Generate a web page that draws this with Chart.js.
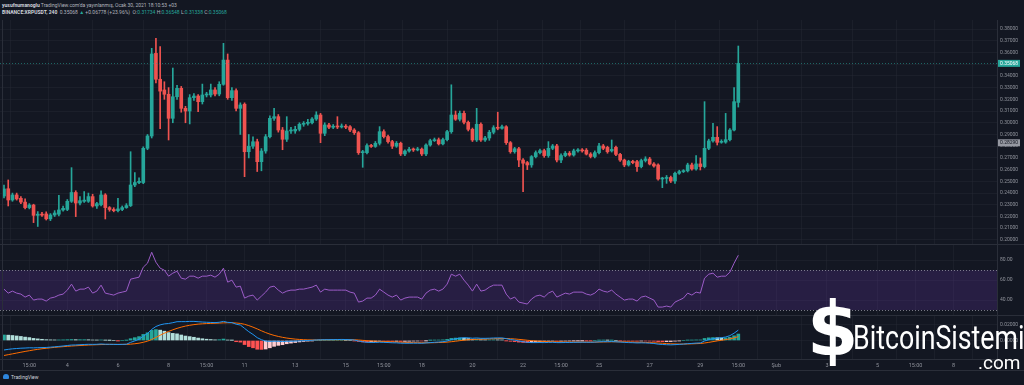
<!DOCTYPE html>
<html><head><meta charset="utf-8">
<script src="https://cdn.jsdelivr.net/npm/chart.js@4.4.0/dist/chart.umd.min.js"></script>
<style>
html,body{margin:0;padding:0;background:#131722;width:1024px;height:385px;overflow:hidden;font-family:Roboto,'Noto Sans',sans-serif;}
canvas{position:absolute;left:0;}
.hdr{position:absolute;left:2px;font-size:5px;color:#b2b5be;white-space:nowrap;line-height:6px;}
.hdr b{color:#d1d4dc;}
.t{color:#26a69a;}
.ln{position:absolute;background:#2a2e39;}
.logo{position:absolute;color:#fff;white-space:nowrap;line-height:1;}
</style></head><body>
<div class="hdr" style="top:2px"><b>yusufnumanoglu</b> TradingView.com'da yayınlanmış, Ocak 30, 2021 18:10:53 +03</div>
<div class="hdr" style="top:9px"><b>BINANCE:XRPUSDT, 240</b> &nbsp;0.35068 <span class="t">▲</span> +0.06778 (+23.96%) &nbsp;O:<span class="t">0.31734</span> H:<span class="t">0.36548</span> L:<span class="t">0.31338</span> C:<span class="t">0.35068</span></div>
<canvas id="main" width="1024" height="224" style="top:20px"></canvas>
<canvas id="rsi" width="1024" height="70" style="top:245px"></canvas>
<canvas id="macd" width="1024" height="54" style="top:316px"></canvas>
<div class="ln" style="left:0;top:244px;width:1024px;height:1px"></div>
<div class="ln" style="left:0;top:315px;width:1024px;height:1px"></div>
<div class="ln" style="left:0;top:370px;width:1024px;height:1px"></div>
<div class="ln" style="left:997px;top:20px;width:1px;height:350px"></div>
<div class="ln" style="left:2px;top:20px;width:1px;height:350px"></div>
<div style="position:absolute;left:3px;top:374px;width:6px;height:5px;background:#2e86de;border-radius:3px 3px 1px 1px"></div>
<div class="hdr" style="left:11px;top:374px;color:#d1d4dc">TradingView</div>
<div class="logo" style="left:807px;top:292px;font-size:74px;font-weight:bold;font-family:'DejaVu Sans'">$</div>
<div class="logo" style="left:853px;top:321px;font-size:33px;transform:scaleX(0.81);transform-origin:left top;font-family:Roboto">BitcoinSistemi</div>
<div class="logo" style="left:978px;top:353px;font-size:19px;font-family:Roboto">.com</div>
<script>
// ---- data (Binance XRPUSDT, 4h candles) ----
const opens=[.2375,.2437,.2341,.2384,.2355,.2323,.2276,.2298,.2210,.2220,.2222,.2180,.2213,.2220,.2256,.2260,.2330,.2405,.2315,.2330,.2330,.2370,.2290,.2300,.2384,.2276,.2260,.2250,.2260,.2276,.2293,.2469,.2490,.2490,.2782,.2887,.3592,.3371,.3280,.3243,.3038,.3222,.3294,.3123,.3100,.3214,.3228,.3180,.3237,.3237,.3280,.3245,.3328,.3535,.3214,.3274,.3123,.3158,.2753,.2800,.2838,.2668,.2759,.2881,.3038,.3052,.2938,.2859,.2930,.2930,.2944,.2987,.2995,.3000,.3032,.3066,.2910,.2981,.2962,.2970,.2964,.2970,.2966,.2938,.2915,.2745,.2745,.2805,.2798,.2825,.2924,.2882,.2839,.2800,.2825,.2734,.2759,.2774,.2768,.2775,.2734,.2810,.2847,.2855,.2820,.2856,.2924,.3066,.3030,.3080,.3004,.2944,.2853,.2987,.2853,.2870,.2919,.2958,.2953,.2966,.2830,.2753,.2778,.2682,.2660,.2640,.2711,.2745,.2762,.2720,.2782,.2802,.2682,.2720,.2740,.2725,.2760,.2766,.2766,.2733,.2712,.2745,.2802,.2790,.2760,.2790,.2730,.2682,.2640,.2670,.2668,.2626,.2677,.2691,.2648,.2640,.2520,.2525,.2533,.2503,.2569,.2583,.2590,.2640,.2606,.2649,.2626,.2782,.2845,.2876,.2833,.2835,.2856,.2938,.31734];
const highs=[.2469,.2512,.2400,.2400,.2370,.2350,.2310,.2305,.2242,.2235,.2240,.2225,.2250,.2380,.2290,.2345,.2617,.2420,.2370,.2413,.2400,.2390,.2320,.2420,.2395,.2285,.2275,.2356,.2290,.2310,.2753,.2574,.2530,.2795,.2900,.3635,.3720,.3650,.3350,.3300,.3467,.3320,.3310,.3140,.3240,.3250,.3240,.3330,.3260,.3330,.3300,.3350,.3678,.3587,.3300,.3290,.3170,.3170,.2900,.2880,.2860,.2780,.2900,.3060,.3123,.3070,.2960,.3052,.2960,.2970,.3000,.3010,.3030,.3045,.3094,.3080,.3000,.2995,.2985,.3052,.2990,.2985,.2975,.2950,.2925,.2765,.2820,.2815,.2840,.2967,.2940,.2895,.2850,.2840,.2835,.2770,.2790,.2785,.2790,.2785,.2820,.2860,.2870,.2870,.2870,.2935,.3324,.3100,.3100,.3100,.3015,.2955,.3123,.3000,.2885,.2935,.2975,.3090,.2980,.2975,.2840,.2790,.2790,.2695,.2670,.2720,.2760,.2775,.2775,.2839,.2815,.2815,.2735,.2755,.2755,.2775,.2780,.2780,.2780,.2745,.2760,.2825,.2815,.2800,.2853,.2800,.2740,.2690,.2680,.2680,.2680,.2690,.2710,.2705,.2660,.2650,.2535,.2550,.2545,.2580,.2595,.2600,.2655,.2655,.2720,.2700,.3180,.2860,.2995,.2967,.2855,.3080,.2950,.3300,.36548];
const lows=[.2358,.2290,.2330,.2340,.2310,.2265,.2265,.2148,.2115,.2200,.2170,.2165,.2200,.2205,.2245,.2250,.2320,.2199,.2300,.2320,.2320,.2280,.2270,.2290,.2179,.2245,.2240,.2240,.2250,.2270,.2285,.2455,.2480,.2480,.2770,.2870,.3340,.2950,.3200,.2853,.3000,.3200,.3090,.3000,.2990,.3190,.3094,.3160,.3220,.3220,.3230,.3230,.3320,.3200,.3190,.3100,.2900,.2540,.2700,.2780,.2584,.2590,.2740,.2870,.3020,.2920,.2770,.2840,.2910,.2910,.2930,.2970,.2980,.2990,.3020,.2830,.2890,.2950,.2950,.2950,.2955,.2950,.2925,.2900,.2730,.2620,.2735,.2790,.2790,.2810,.2870,.2825,.2780,.2790,.2720,.2720,.2750,.2755,.2760,.2720,.2720,.2800,.2840,.2810,.2810,.2845,.2910,.3020,.3015,.2990,.2930,.2840,.2840,.2840,.2840,.2850,.2905,.2940,.2945,.2815,.2740,.2740,.2626,.2412,.2600,.2620,.2700,.2735,.2705,.2705,.2770,.2665,.2660,.2710,.2715,.2715,.2750,.2750,.2725,.2700,.2700,.2735,.2770,.2740,.2750,.2720,.2670,.2625,.2630,.2650,.2585,.2615,.2665,.2640,.2620,.2510,.2446,.2483,.2490,.2483,.2560,.2575,.2580,.2595,.2595,.2597,.2615,.2770,.2835,.2810,.2825,.2825,.2845,.2930,.31338];
const closes=[.2435,.2341,.2384,.2350,.2323,.2276,.2298,.2210,.2220,.2212,.2180,.2213,.2230,.2256,.2270,.2330,.2405,.2315,.2335,.2340,.2370,.2290,.2310,.2384,.2276,.2260,.2250,.2265,.2276,.2293,.2469,.2490,.2500,.2782,.2887,.3587,.3371,.3270,.3243,.3038,.3222,.3294,.3123,.3100,.3214,.3228,.3180,.3237,.3243,.3280,.3245,.3328,.3535,.3214,.3274,.3123,.3152,.2753,.2800,.2838,.2668,.2759,.2881,.3038,.3052,.2938,.2859,.2930,.2938,.2944,.2987,.2995,.3004,.3032,.3066,.2910,.2981,.2962,.2970,.2964,.2970,.2962,.2938,.2915,.2745,.2753,.2805,.2798,.2825,.2924,.2882,.2839,.2800,.2825,.2734,.2759,.2774,.2768,.2775,.2734,.2810,.2847,.2855,.2820,.2856,.2924,.3066,.3030,.3080,.3004,.2944,.2853,.2987,.2853,.2870,.2919,.2958,.2953,.2966,.2830,.2753,.2778,.2682,.2655,.2640,.2711,.2745,.2762,.2720,.2782,.2802,.2682,.2720,.2740,.2725,.2760,.2766,.2760,.2733,.2712,.2745,.2802,.2782,.2753,.2773,.2730,.2682,.2640,.2670,.2660,.2626,.2677,.2691,.2648,.2631,.2520,.2525,.2533,.2503,.2569,.2583,.2590,.2640,.2606,.2649,.2626,.2782,.2845,.2876,.2833,.2840,.2856,.2938,.3180,.35068];
const rsi=[51,47,49,47,46,43,45,40,41,41,39,42,43,45,46,50,56,49,51,51,53,47,49,55,47,46,45,47,48,49,61,62,63,73,77,88,78,72,70,64,67,69,62,61,64,64,62,64,64,65,63,66,72,58,60,53,54,42,44,45,40,44,48,53,54,50,47,49,50,50,51,51,52,53,55,48,51,50,50,50,50,50,48,47,38,39,42,42,45,51,48,45,43,45,40,42,43,43,43,41,47,50,51,49,51,56,66,64,66,60,55,49,56,49,50,53,55,55,55,46,41,43,38,37,36,41,44,45,43,47,49,43,45,47,46,48,48,48,46,45,47,51,49,48,50,46,43,40,41,41,39,43,44,42,40,33,33,34,33,38,40,42,47,45,48,47,62,66,67,63,64,64,68,77,85];
const macdLine=[-.0117,-.0109,-.0103,-.0099,-.0095,-.0093,-.0090,-.0091,-.0089,-.0087,-.0086,-.0082,-.0078,-.0073,-.0068,-.0062,-.0056,-.0055,-.0052,-.0049,-.0047,-.0048,-.0047,-.0043,-.0046,-.0047,-.0048,-.0049,-.0048,-.0046,-.0023,-.0005,.0015,.0053,.0087,.0137,.0173,.0193,.0205,.0210,.0220,.0232,.0233,.0233,.0236,.0236,.0232,.0228,.0225,.0223,.0221,.0225,.0236,.0224,.0221,.0201,.0191,.0150,.0109,.0075,.0035,.0010,-.0007,-.0011,-.0009,-.0010,-.0013,-.0010,-.0009,-.0008,-.0005,-.0002,.0000,.0003,.0007,.0008,.0010,.0010,.0011,.0012,.0013,.0012,.0010,.0006,-.0006,-.0016,-.0022,-.0024,-.0024,-.0021,-.0023,-.0025,-.0028,-.0029,-.0033,-.0034,-.0034,-.0033,-.0033,-.0034,-.0030,-.0026,-.0022,-.0019,-.0015,-.0006,.0011,.0021,.0030,.0034,.0033,.0028,.0031,.0027,.0027,.0028,.0031,.0032,.0032,.0023,.0012,.0005,-.0006,-.0015,-.0023,-.0026,-.0026,-.0025,-.0026,-.0024,-.0022,-.0026,-.0026,-.0025,-.0025,-.0023,-.0022,-.0021,-.0022,-.0022,-.0020,-.0016,-.0014,-.0014,-.0013,-.0016,-.0019,-.0023,-.0026,-.0027,-.0030,-.0029,-.0030,-.0033,-.0037,-.0045,-.0049,-.0052,-.0054,-.0051,-.0048,-.0044,-.0039,-.0036,-.0032,-.0030,-.0006,.0010,.0022,.0029,.0035,.0043,.0060,.0090,.0128];
const signalLine=[-.0185,-.0175,-.0165,-.0155,-.0145,-.0135,-.0126,-.0117,-.0109,-.0102,-.0096,-.0090,-.0085,-.0080,-.0076,-.0072,-.0068,-.0065,-.0062,-.0059,-.0056,-.0054,-.0052,-.0050,-.0049,-.0048,-.0048,-.0048,-.0048,-.0048,-.0045,-.0040,-.0033,-.0022,-.0008,.0012,.0038,.0065,.0090,.0112,.0132,.0150,.0165,.0178,.0188,.0196,.0202,.0206,.0209,.0211,.0213,.0215,.0218,.0219,.0219,.0216,.0211,.0200,.0184,.0165,.0143,.0120,.0098,.0079,.0063,.0050,.0039,.0030,.0023,.0017,.0013,.0010,.0008,.0007,.0007,.0007,.0008,.0008,.0009,.0009,.0010,.0010,.0010,.0009,.0006,.0002,-.0002,-.0006,-.0009,-.0011,-.0013,-.0015,-.0017,-.0019,-.0021,-.0023,-.0025,-.0026,-.0027,-.0028,-.0028,-.0028,-.0027,-.0025,-.0023,-.0020,-.0015,-.0009,-.0002,.0004,.0009,.0012,.0015,.0017,.0019,.0020,.0022,.0024,.0025,.0025,.0022,.0019,.0014,.0009,.0003,-.0002,-.0006,-.0009,-.0012,-.0014,-.0015,-.0017,-.0018,-.0019,-.0020,-.0020,-.0020,-.0020,-.0020,-.0020,-.0020,-.0019,-.0018,-.0017,-.0016,-.0016,-.0016,-.0017,-.0019,-.0020,-.0022,-.0023,-.0024,-.0026,-.0028,-.0031,-.0034,-.0038,-.0041,-.0043,-.0044,-.0044,-.0043,-.0041,-.0039,-.0037,-.0031,-.0023,-.0014,-.0005,.0003,.0011,.0020,.0032,.0048];
const histogram=[.0068,.0066,.0062,.0056,.0050,.0042,.0036,.0026,.0020,.0015,.0010,.0008,.0007,.0007,.0008,.0010,.0012,.0010,.0010,.0010,.0009,.0006,.0005,.0007,.0003,.0001,.0000,-.0001,.0000,.0002,.0022,.0035,.0048,.0075,.0095,.0125,.0135,.0128,.0115,.0098,.0088,.0082,.0068,.0055,.0048,.0040,.0030,.0022,.0016,.0012,.0008,.0010,.0018,.0005,.0002,-.0015,-.0020,-.0050,-.0075,-.0090,-.0108,-.0110,-.0105,-.0090,-.0072,-.0060,-.0052,-.0040,-.0032,-.0025,-.0018,-.0012,-.0008,-.0004,.0000,.0001,.0002,.0002,.0002,.0003,.0003,.0002,.0000,-.0003,-.0012,-.0018,-.0020,-.0018,-.0015,-.0010,-.0010,-.0010,-.0011,-.0010,-.0012,-.0011,-.0009,-.0007,-.0006,-.0006,-.0002,.0002,.0005,.0006,.0008,.0014,.0026,.0030,.0032,.0030,.0024,.0016,.0016,.0010,.0008,.0008,.0009,.0008,.0007,-.0002,-.0010,-.0014,-.0020,-.0024,-.0026,-.0024,-.0020,-.0016,-.0014,-.0010,-.0007,-.0009,-.0008,-.0006,-.0005,-.0003,-.0002,-.0001,-.0002,-.0002,.0000,.0003,.0004,.0003,.0003,.0000,-.0003,-.0006,-.0007,-.0007,-.0008,-.0006,-.0006,-.0007,-.0009,-.0014,-.0015,-.0014,-.0013,-.0008,-.0004,.0000,.0004,.0005,.0007,.0007,.0025,.0033,.0036,.0034,.0032,.0032,.0040,.0058,.0080];
const priceTicks=[0.20,0.21,0.22,0.23,0.24,0.25,0.26,0.27,0.28,0.29,0.30,0.31,0.32,0.33,0.34,0.35,0.36,0.37,0.38];
const rsiTicks=[40,60,80];
const macdTicks=[0,0.02];
const timeTickPos=[6,15,27,39,48,57,69,81,90,99,111,123,132,141,153,165,174,183,195,207,216,225];
const timeTickLabels=['15:00','4','6','8','15:00','11','13','15','15:00','18','20','22','15:00','25','27','29','15:00','Şub','3','5','15:00','8'];
const lastPrice=0.35068, prevClose=0.28290;
const rsiUpper=70, rsiLower=30;

// ---- styling ----
const UP='#26a69a', DOWN='#ef5350', TXT='#8f929b', GRID='rgba(42,46,57,0.35)';
const XMIN=-0.95, XMAX=235.3;
Chart.defaults.font.family='Roboto, "Noto Sans", sans-serif';
Chart.defaults.animation=false;
const idx=closes.map((c,i)=>i);
const candleColor=i=>closes[i]>=opens[i]?UP:DOWN;

function xAxis(showTicks){
  return {type:'linear',min:XMIN,max:XMAX,offset:false,
    afterBuildTicks:s=>{s.ticks=timeTickPos.map(v=>({value:v}));},
    afterFit:s=>{s.paddingLeft=0;s.paddingRight=0;if(showTicks)s.height=11;},
    grid:{color:GRID,drawTicks:false,lineWidth:1},
    border:{display:showTicks,color:'#2a2e39'},
    ticks:{display:showTicks,autoSkip:false,maxRotation:0,color:TXT,font:{size:5.5},padding:3,
      callback:(v,i)=>timeTickLabels[i]}};
}
function yAxis(min,max,ticks,fmt){
  return {position:'right',min:min,max:max,
    afterBuildTicks:s=>{s.ticks=ticks.map(v=>({value:v}));},
    afterFit:s=>{s.width=27;s.paddingTop=0;s.paddingBottom=0;},
    grid:{color:GRID,drawTicks:false},border:{display:false},
    ticks:{color:TXT,font:{size:5},padding:3,callback:fmt}};
}
const base={responsive:false,animation:false,layout:{padding:0},
  plugins:{legend:{display:false},tooltip:{enabled:false}}};

// main price pane
const pricePlugin={id:'price',afterDatasetsDraw(ch){
  const c=ch.ctx,y=ch.scales.y,a=ch.chartArea;
  const yl=Math.round(y.getPixelForValue(lastPrice))+0.5;
  c.save();c.strokeStyle='rgba(38,166,154,0.55)';c.setLineDash([1,2]);c.lineWidth=1;
  c.beginPath();c.moveTo(a.left,yl);c.lineTo(a.right,yl);c.stroke();c.setLineDash([]);
  const box=(v,bg,fg)=>{const yy=y.getPixelForValue(v);c.fillStyle=bg;c.fillRect(a.right,yy-3.5,23,7);
    c.fillStyle=fg;c.font='5px Roboto';c.textBaseline='middle';c.textAlign='left';c.fillText(v.toFixed(5),a.right+3,yy+0.3);};
  box(prevClose,'#9598a1','#131722');box(lastPrice,UP,'#ffffff');
  c.restore();}};
new Chart(document.getElementById('main'),{type:'bar',
  data:{datasets:[
    {data:idx.map(i=>({x:i,y:[lows[i],highs[i]]})),backgroundColor:c=>candleColor(c.dataIndex),barThickness:1,grouped:false,order:2},
    {data:idx.map(i=>({x:i,y:[opens[i],closes[i]]})),backgroundColor:c=>candleColor(c.dataIndex),barThickness:3,minBarLength:1,grouped:false,order:1}]},
  options:{...base,scales:{x:xAxis(false),y:yAxis(0.19655,0.38768,priceTicks,v=>v.toFixed(5))}},
  plugins:[pricePlugin]});

// RSI pane
const bandPlugin={id:'band',beforeDatasetsDraw(ch){
  const c=ch.ctx,y=ch.scales.y,a=ch.chartArea;
  const y1=y.getPixelForValue(rsiUpper),y2=y.getPixelForValue(rsiLower);
  c.save();c.fillStyle='rgba(120,60,200,0.2)';c.fillRect(a.left,y1,a.right-a.left,y2-y1);
  c.strokeStyle='rgba(200,200,210,0.55)';c.setLineDash([1,2]);c.lineWidth=1;
  [y1,y2].forEach(v=>{c.beginPath();c.moveTo(a.left,Math.round(v)+0.5);c.lineTo(a.right,Math.round(v)+0.5);c.stroke();});
  c.restore();}};
new Chart(document.getElementById('rsi'),{type:'line',
  data:{datasets:[{data:idx.map(i=>({x:i,y:rsi[i]})),borderColor:'#9c5cc8',borderWidth:1,pointRadius:0,tension:0}]},
  options:{...base,scales:{x:xAxis(false),y:yAxis(25.04,95.27,rsiTicks,v=>v.toFixed(2))}},
  plugins:[bandPlugin]});

// MACD pane + time axis
const histColor=i=>{const v=histogram[i],p=i>0?histogram[i-1]:v;
  return v>=0?(v>=p?'#26a69a':'#b2dfdb'):(v<=p?'#ff5252':'#ffcdd2');};
new Chart(document.getElementById('macd'),{type:'bar',
  data:{datasets:[
    {type:'bar',data:idx.map(i=>({x:i,y:histogram[i]})),backgroundColor:c=>histColor(c.dataIndex),barThickness:3,order:3},
    {type:'line',data:idx.map(i=>({x:i,y:macdLine[i]})),borderColor:'#2196f3',borderWidth:1,pointRadius:0,order:1},
    {type:'line',data:idx.map(i=>({x:i,y:signalLine[i]})),borderColor:'#ff6d00',borderWidth:1,pointRadius:0,order:2}]},
  options:{...base,scales:{x:xAxis(true),y:yAxis(-0.02284,0.03025,macdTicks,v=>v.toFixed(5))}}});
</script>
</body></html>
